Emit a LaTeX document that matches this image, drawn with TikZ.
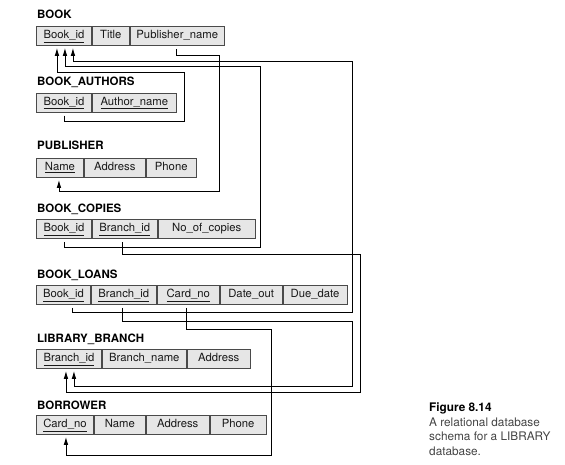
\documentclass[tikz,border=0pt]{standalone}
\usepackage{fontspec}
\setmainfont{TeX Gyre Heros}
\usetikzlibrary{arrows.meta,calc}
\definecolor{cellfill}{HTML}{E6E6E6}
\definecolor{cellline}{HTML}{4A4A4A}
\definecolor{captext}{HTML}{444444}
\newcommand\pkey[1]{\underline{#1}}
\begin{document}
\begin{tikzpicture}[x=1pt,y=-1pt,
  cell/.style={draw=cellline, fill=cellfill, line width=0.9pt, minimum height=19pt,
    inner sep=0pt, anchor=north west, font=\fontsize{11.3}{13}\selectfont,
    text height=8pt, text depth=3pt, text=black!90},
  reltitle/.style={anchor=base west, inner sep=0pt, font=\fontsize{11.5}{13}\selectfont\bfseries},
  fk/.style={draw=black, line width=0.9pt, shorten <=3pt, shorten >=2pt,
    -{Latex[length=8pt,width=4.6pt]}},
  capline/.style={anchor=base west, inner sep=0pt, font=\fontsize{11.8}{13}\selectfont, text=captext}
]
\useasboundingbox (0,0) rectangle (565,464);

% BOOK
\node[reltitle] (tBook) at (37,18.5) {BOOK};
\node[cell,minimum width=55pt] (b1) at (36,26) {\pkey{Book\_id}};
\node[cell,minimum width=37pt] (b2) at (b1.north east) {Title};
\node[cell,minimum width=94pt] (b3) at (b2.north east) {Publisher\_name};

% BOOK_AUTHORS
\node[reltitle] (tBA) at (37,85) {BOOK\_AUTHORS};
\node[cell,minimum width=55pt] (ba1) at (36,92.7) {\pkey{Book\_id}};
\node[cell,minimum width=84pt] (ba2) at (ba1.north east) {\pkey{Author\_name}};

% PUBLISHER
\node[reltitle] (tP) at (37,149) {PUBLISHER};
\node[cell,minimum width=47pt] (p1) at (36,158) {\pkey{Name}};
\node[cell,minimum width=61pt] (p2) at (p1.north east) {Address};
\node[cell,minimum width=50pt] (p3) at (p2.north east) {Phone};

% BOOK_COPIES
\node[reltitle] (tBC) at (37,212.7) {BOOK\_COPIES};
\node[cell,minimum width=55pt] (bc1) at (36,219.3) {\pkey{Book\_id}};
\node[cell,minimum width=65pt] (bc2) at (bc1.north east) {\pkey{Branch\_id}};
\node[cell,minimum width=97pt] (bc3) at (bc2.north east) {No\_of\_copies};

% BOOK_LOANS
\node[reltitle] (tBL) at (37,278.3) {BOOK\_LOANS};
\node[cell,minimum width=54pt] (bl1) at (36,285) {\pkey{Book\_id}};
\node[cell,minimum width=65pt] (bl2) at (bl1.north east) {\pkey{Branch\_id}};
\node[cell,minimum width=62pt] (bl3) at (bl2.north east) {\pkey{Card\_no}};
\node[cell,minimum width=62pt] (bl4) at (bl3.north east) {Date\_out};
\node[cell,minimum width=64pt] (bl5) at (bl4.north east) {Due\_date};

% LIBRARY_BRANCH
\node[reltitle] (tLB) at (37,342.7) {LIBRARY\_BRANCH};
\node[cell,minimum width=65pt] (lb1) at (36,349) {\pkey{Branch\_id}};
\node[cell,minimum width=84pt] (lb2) at (lb1.north east) {Branch\_name};
\node[cell,minimum width=63pt] (lb3) at (lb2.north east) {Address};

% BORROWER
\node[reltitle] (tBo) at (37,409.3) {BORROWER};
\node[cell,minimum width=57pt] (bo1) at (36,415) {\pkey{Card\_no}};
\node[cell,minimum width=51pt] (bo2) at (bo1.north east) {Name};
\node[cell,minimum width=63pt] (bo3) at (bo2.north east) {Address};
\node[cell,minimum width=56pt] (bo4) at (bo3.north east) {Phone};

% Foreign keys
\draw[fk] (ba1.south) -- ++(0,9) -| (184,72) -| ([xshift=-7pt]b1.south);
\draw[fk] (bc1.south) -- ++(0,8.4) -| (260,66.7) -| ([xshift=1pt]b1.south);
\draw[fk] ([xshift=9pt]bl1.south) -- ++(0,7.4) -| (352.7,61.3) -| ([xshift=9pt]b1.south);
\draw[fk] ([xshift=-1pt]b3.south) -- ++(0,10) -| (219,191.7) -| ([xshift=-1pt]p1.south);
\draw[fk] ([xshift=-2pt]bc2.south) -- ++(0,15.7) -| (360,392.7) -| ([xshift=-3pt]lb1.south);
\draw[fk] ([xshift=-1pt]bl2.south) -- ++(0,16.4) -| (352.7,386.7) -| ([xshift=5pt]lb1.south);
\draw[fk] ([xshift=-2pt]bl3.south) -- ++(0,24.7) -| (271,455) -| ([xshift=1pt]bo1.south);

% Caption
\node[capline, font=\fontsize{11.8}{13}\selectfont\bfseries, text=black] (cap1) at (429,411.7) {Figure 8.14};
\node[capline] (cap2) at (429,426) {A relational database};
\node[capline] (cap3) at (429,440.5) {schema for a LIBRARY};
\node[capline] (cap4) at (429,455) {database.};
\end{tikzpicture}
\end{document}
